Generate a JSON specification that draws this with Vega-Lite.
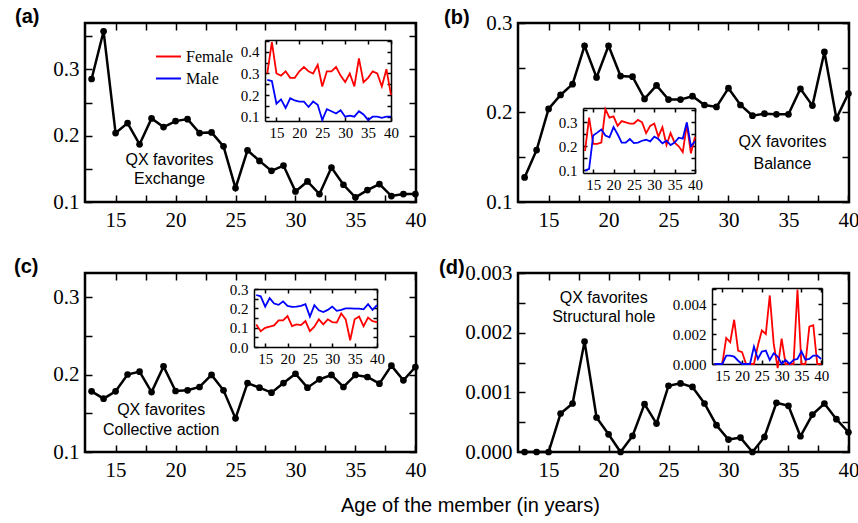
{
"$schema": "https://vega.github.io/schema/vega-lite/v6.json",
"padding": {"left": 12, "top": 6, "right": 0, "bottom": 2},
"background": "white",
"config": {
 "font": "Liberation Serif",
 "view": {"stroke": "black", "strokeWidth": 2.5},
 "axis": {"grid": false, "labelFont": "Liberation Serif", "labelColor": "black", "tickColor": "black", "tickWidth": 1.5, "domainColor": "black", "domainWidth": 1.5, "labelFlush": false, "labelOverlap": false},
 "axisX": {"labelFont": "Liberation Serif"},
 "axisY": {"labelFont": "Liberation Serif"},
 "title": {"font": "Liberation Sans", "fontSize": 20, "fontWeight": "bold", "anchor": "start", "frame": "group", "offset": -5, "color": "black"},
 "text": {"font": "Liberation Sans", "fontSize": 16, "color": "black"}
},
"title": {"text": "Age of the member (in years)", "orient": "bottom", "anchor": "middle", "frame": "bounds", "dx": 34, "offset": 15, "fontSize": 20, "fontWeight": "normal", "font": "Liberation Sans"},
"datasets": {
 "a_main": [{"age":13,"v":0.2855},{"age":14,"v":0.3575},{"age":15,"v":0.204},{"age":16,"v":0.219},{"age":17,"v":0.187},{"age":18,"v":0.226},{"age":19,"v":0.213},{"age":20,"v":0.222},{"age":21,"v":0.225},{"age":22,"v":0.204},{"age":23,"v":0.205},{"age":24,"v":0.184},{"age":25,"v":0.121},{"age":26,"v":0.178},{"age":27,"v":0.162},{"age":28,"v":0.147},{"age":29,"v":0.155},{"age":30,"v":0.116},{"age":31,"v":0.131},{"age":32,"v":0.112},{"age":33,"v":0.152},{"age":34,"v":0.126},{"age":35,"v":0.107},{"age":36,"v":0.118},{"age":37,"v":0.127},{"age":38,"v":0.109},{"age":39,"v":0.112},{"age":40,"v":0.112}],
 "a_text": [{"age":19.5,"v":0.1633,"label":"QX favorites"},{"age":19.5,"v":0.1347,"label":"Exchange"}],
 "a_inset": [
  {"age":13,"g":"Female","v":0.30},{"age":14,"g":"Female","v":0.445},{"age":15,"g":"Female","v":0.30},{"age":16,"g":"Female","v":0.29},{"age":17,"g":"Female","v":0.31},{"age":18,"g":"Female","v":0.28},{"age":19,"g":"Female","v":0.28},{"age":20,"g":"Female","v":0.31},{"age":21,"g":"Female","v":0.33},{"age":22,"g":"Female","v":0.31},{"age":23,"g":"Female","v":0.30},{"age":24,"g":"Female","v":0.34},{"age":25,"g":"Female","v":0.24},{"age":26,"g":"Female","v":0.31},{"age":27,"g":"Female","v":0.31},{"age":28,"g":"Female","v":0.33},{"age":29,"g":"Female","v":0.29},{"age":30,"g":"Female","v":0.26},{"age":31,"g":"Female","v":0.30},{"age":32,"g":"Female","v":0.24},{"age":33,"g":"Female","v":0.37},{"age":34,"g":"Female","v":0.26},{"age":35,"g":"Female","v":0.28},{"age":36,"g":"Female","v":0.31},{"age":37,"g":"Female","v":0.30},{"age":38,"g":"Female","v":0.24},{"age":39,"g":"Female","v":0.32},{"age":40,"g":"Female","v":0.20},
  {"age":13,"g":"Male","v":0.27},{"age":14,"g":"Male","v":0.265},{"age":15,"g":"Male","v":0.16},{"age":16,"g":"Male","v":0.18},{"age":17,"g":"Male","v":0.14},{"age":18,"g":"Male","v":0.185},{"age":19,"g":"Male","v":0.175},{"age":20,"g":"Male","v":0.17},{"age":21,"g":"Male","v":0.17},{"age":22,"g":"Male","v":0.145},{"age":23,"g":"Male","v":0.17},{"age":24,"g":"Male","v":0.155},{"age":25,"g":"Male","v":0.085},{"age":26,"g":"Male","v":0.135},{"age":27,"g":"Male","v":0.125},{"age":28,"g":"Male","v":0.115},{"age":29,"g":"Male","v":0.13},{"age":30,"g":"Male","v":0.1},{"age":31,"g":"Male","v":0.105},{"age":32,"g":"Male","v":0.1},{"age":33,"g":"Male","v":0.125},{"age":34,"g":"Male","v":0.11},{"age":35,"g":"Male","v":0.085},{"age":36,"g":"Male","v":0.1},{"age":37,"g":"Male","v":0.1},{"age":38,"g":"Male","v":0.095},{"age":39,"g":"Male","v":0.1},{"age":40,"g":"Male","v":0.1}],
 "b_main": [{"age":13,"v":0.1274},{"age":14,"v":0.158},{"age":15,"v":0.204},{"age":16,"v":0.2196},{"age":17,"v":0.2317},{"age":18,"v":0.2745},{"age":19,"v":0.2392},{"age":20,"v":0.2745},{"age":21,"v":0.2407},{"age":22,"v":0.24},{"age":23,"v":0.2152},{"age":24,"v":0.2302},{"age":25,"v":0.2144},{"age":26,"v":0.2144},{"age":27,"v":0.2182},{"age":28,"v":0.2084},{"age":29,"v":0.2062},{"age":30,"v":0.2272},{"age":31,"v":0.2084},{"age":32,"v":0.1964},{"age":33,"v":0.1987},{"age":34,"v":0.198},{"age":35,"v":0.198},{"age":36,"v":0.2265},{"age":37,"v":0.2077},{"age":38,"v":0.2677},{"age":39,"v":0.1934},{"age":40,"v":0.2212}],
 "b_text": [{"age":34.5,"v":0.1673,"label":"QX favorites"},{"age":34.5,"v":0.143,"label":"Balance"}],
 "b_inset": [
  {"age":13,"g":"Female","v":0.18},{"age":14,"g":"Female","v":0.32},{"age":15,"g":"Female","v":0.21},{"age":16,"g":"Female","v":0.21},{"age":17,"g":"Female","v":0.215},{"age":18,"g":"Female","v":0.355},{"age":19,"g":"Female","v":0.32},{"age":20,"g":"Female","v":0.325},{"age":21,"g":"Female","v":0.285},{"age":22,"g":"Female","v":0.305},{"age":23,"g":"Female","v":0.30},{"age":24,"g":"Female","v":0.295},{"age":25,"g":"Female","v":0.295},{"age":26,"g":"Female","v":0.31},{"age":27,"g":"Female","v":0.30},{"age":28,"g":"Female","v":0.255},{"age":29,"g":"Female","v":0.285},{"age":30,"g":"Female","v":0.295},{"age":31,"g":"Female","v":0.24},{"age":32,"g":"Female","v":0.28},{"age":33,"g":"Female","v":0.205},{"age":34,"g":"Female","v":0.255},{"age":35,"g":"Female","v":0.215},{"age":36,"g":"Female","v":0.2},{"age":37,"g":"Female","v":0.175},{"age":38,"g":"Female","v":0.29},{"age":39,"g":"Female","v":0.17},{"age":40,"g":"Female","v":0.24},
  {"age":13,"g":"Male","v":0.098},{"age":14,"g":"Male","v":0.105},{"age":15,"g":"Male","v":0.245},{"age":16,"g":"Male","v":0.257},{"age":17,"g":"Male","v":0.27},{"age":18,"g":"Male","v":0.245},{"age":19,"g":"Male","v":0.237},{"age":20,"g":"Male","v":0.28},{"age":21,"g":"Male","v":0.25},{"age":22,"g":"Male","v":0.215},{"age":23,"g":"Male","v":0.215},{"age":24,"g":"Male","v":0.23},{"age":25,"g":"Male","v":0.213},{"age":26,"g":"Male","v":0.215},{"age":27,"g":"Male","v":0.223},{"age":28,"g":"Male","v":0.227},{"age":29,"g":"Male","v":0.22},{"age":30,"g":"Male","v":0.24},{"age":31,"g":"Male","v":0.23},{"age":32,"g":"Male","v":0.212},{"age":33,"g":"Male","v":0.223},{"age":34,"g":"Male","v":0.205},{"age":35,"g":"Male","v":0.215},{"age":36,"g":"Male","v":0.236},{"age":37,"g":"Male","v":0.232},{"age":38,"g":"Male","v":0.30},{"age":39,"g":"Male","v":0.20},{"age":40,"g":"Male","v":0.22}],
 "c_main": [{"age":13,"v":0.1783},{"age":14,"v":0.1688},{"age":15,"v":0.1783},{"age":16,"v":0.2},{"age":17,"v":0.2037},{"age":18,"v":0.1774},{"age":19,"v":0.2105},{"age":20,"v":0.1787},{"age":21,"v":0.1796},{"age":22,"v":0.1839},{"age":23,"v":0.1994},{"age":24,"v":0.1796},{"age":25,"v":0.1434},{"age":26,"v":0.189},{"age":27,"v":0.183},{"age":28,"v":0.1766},{"age":29,"v":0.189},{"age":30,"v":0.201},{"age":31,"v":0.183},{"age":32,"v":0.1938},{"age":33,"v":0.1994},{"age":34,"v":0.1839},{"age":35,"v":0.1994},{"age":36,"v":0.1968},{"age":37,"v":0.1882},{"age":38,"v":0.2114},{"age":39,"v":0.1925},{"age":40,"v":0.2097}],
 "c_text": [{"age":18.8,"v":0.1538,"label":"QX favorites"},{"age":18.8,"v":0.128,"label":"Collective action"}],
 "c_inset": [
  {"age":13,"g":"Female","v":0.117},{"age":14,"g":"Female","v":0.082},{"age":15,"g":"Female","v":0.099},{"age":16,"g":"Female","v":0.105},{"age":17,"g":"Female","v":0.112},{"age":18,"g":"Female","v":0.138},{"age":19,"g":"Female","v":0.138},{"age":20,"g":"Female","v":0.16},{"age":21,"g":"Female","v":0.108},{"age":22,"g":"Female","v":0.117},{"age":23,"g":"Female","v":0.113},{"age":24,"g":"Female","v":0.134},{"age":25,"g":"Female","v":0.082},{"age":26,"g":"Female","v":0.105},{"age":27,"g":"Female","v":0.143},{"age":28,"g":"Female","v":0.117},{"age":29,"g":"Female","v":0.143},{"age":30,"g":"Female","v":0.129},{"age":31,"g":"Female","v":0.126},{"age":32,"g":"Female","v":0.173},{"age":33,"g":"Female","v":0.143},{"age":34,"g":"Female","v":0.035},{"age":35,"g":"Female","v":0.143},{"age":36,"g":"Female","v":0.157},{"age":37,"g":"Female","v":0.108},{"age":38,"g":"Female","v":0.152},{"age":39,"g":"Female","v":0.134},{"age":40,"g":"Female","v":0.129},
  {"age":13,"g":"Male","v":0.269},{"age":14,"g":"Male","v":0.262},{"age":15,"g":"Male","v":0.209},{"age":16,"g":"Male","v":0.253},{"age":17,"g":"Male","v":0.225},{"age":18,"g":"Male","v":0.218},{"age":19,"g":"Male","v":0.236},{"age":20,"g":"Male","v":0.213},{"age":21,"g":"Male","v":0.208},{"age":22,"g":"Male","v":0.209},{"age":23,"g":"Male","v":0.213},{"age":24,"g":"Male","v":0.222},{"age":25,"g":"Male","v":0.157},{"age":26,"g":"Male","v":0.216},{"age":27,"g":"Male","v":0.19},{"age":28,"g":"Male","v":0.181},{"age":29,"g":"Male","v":0.192},{"age":30,"g":"Male","v":0.209},{"age":31,"g":"Male","v":0.187},{"age":32,"g":"Male","v":0.192},{"age":33,"g":"Male","v":0.2},{"age":34,"g":"Male","v":0.2},{"age":35,"g":"Male","v":0.199},{"age":36,"g":"Male","v":0.199},{"age":37,"g":"Male","v":0.195},{"age":38,"g":"Male","v":0.222},{"age":39,"g":"Male","v":0.192},{"age":40,"g":"Male","v":0.216}],
 "d_main": [{"age":13,"v":0},{"age":14,"v":0},{"age":15,"v":0},{"age":16,"v":0.000645},{"age":17,"v":0.000813},{"age":18,"v":0.00185},{"age":19,"v":0.000578},{"age":20,"v":0.000297},{"age":21,"v":0},{"age":22,"v":0.000269},{"age":23,"v":0.000802},{"age":24,"v":0.000477},{"age":25,"v":0.00111},{"age":26,"v":0.00115},{"age":27,"v":0.00109},{"age":28,"v":0.000813},{"age":29,"v":0.000449},{"age":30,"v":0.000208},{"age":31,"v":0.000241},{"age":32,"v":0},{"age":33,"v":0.000252},{"age":34,"v":0.000824},{"age":35,"v":0.000774},{"age":36,"v":0.000264},{"age":37,"v":0.000628},{"age":38,"v":0.000813},{"age":39,"v":0.00055},{"age":40,"v":0.000331}],
 "d_text": [{"age":19.6,"v":0.00258,"label":"QX favorites"},{"age":19.6,"v":0.002262,"label":"Structural hole"}],
 "d_inset": [
  {"age":13,"g":"Female","v":0},{"age":14,"g":"Female","v":0},{"age":15,"g":"Female","v":0},{"age":16,"g":"Female","v":0.00175},{"age":17,"g":"Female","v":0.00146},{"age":18,"g":"Female","v":0.00297},{"age":19,"g":"Female","v":0.0009},{"age":20,"g":"Female","v":0.0008},{"age":21,"g":"Female","v":0},{"age":22,"g":"Female","v":0},{"age":23,"g":"Female","v":0},{"age":24,"g":"Female","v":0.00124},{"age":25,"g":"Female","v":0.00225},{"age":26,"g":"Female","v":0.002},{"age":27,"g":"Female","v":0.0046},{"age":28,"g":"Female","v":0.00135},{"age":29,"g":"Female","v":-0.00027},{"age":30,"g":"Female","v":0.0017},{"age":31,"g":"Female","v":0},{"age":32,"g":"Female","v":0},{"age":33,"g":"Female","v":0},{"age":34,"g":"Female","v":0.005},{"age":35,"g":"Female","v":0},{"age":36,"g":"Female","v":0},{"age":37,"g":"Female","v":0.0025},{"age":38,"g":"Female","v":0.0026},{"age":39,"g":"Female","v":0},{"age":40,"g":"Female","v":0},
  {"age":13,"g":"Male","v":0},{"age":14,"g":"Male","v":0},{"age":15,"g":"Male","v":0},{"age":16,"g":"Male","v":0.00056},{"age":17,"g":"Male","v":0.00056},{"age":18,"g":"Male","v":0.0005},{"age":19,"g":"Male","v":0.00022},{"age":20,"g":"Male","v":0},{"age":21,"g":"Male","v":0},{"age":22,"g":"Male","v":0},{"age":23,"g":"Male","v":0.00117},{"age":24,"g":"Male","v":0.00034},{"age":25,"g":"Male","v":0.00083},{"age":26,"g":"Male","v":0.0009},{"age":27,"g":"Male","v":0.00027},{"age":28,"g":"Male","v":0.00072},{"age":29,"g":"Male","v":0.0005},{"age":30,"g":"Male","v":0},{"age":31,"g":"Male","v":0.00027},{"age":32,"g":"Male","v":0},{"age":33,"g":"Male","v":0.00027},{"age":34,"g":"Male","v":0.00034},{"age":35,"g":"Male","v":0.00085},{"age":36,"g":"Male","v":0.00029},{"age":37,"g":"Male","v":0.00034},{"age":38,"g":"Male","v":0.00056},{"age":39,"g":"Male","v":0.00056},{"age":40,"g":"Male","v":0.00034}]
},
"columns": 2,
"spacing": {"row": 71, "column": 102},
"bounds": "flush",
"resolve": {"scale": {"color": "independent"}, "legend": {"color": "independent"}},
"concat": [
 {"width": 331, "height": 179,
  "title": {"text": "(a)", "dx": -70},
  "resolve": {"scale": {"x": "independent", "y": "independent"}, "axis": {"x": "independent", "y": "independent"}},
  "layer": [
   {"data": {"name": "a_main"}, "mark": {"type": "line", "color": "black", "strokeWidth": 2.5, "point": {"filled": true, "color": "black", "size": 45}},
    "encoding": {
     "x": {"field": "age", "type": "quantitative", "scale": {"domain": [12.45, 40.05], "nice": false, "zero": false}, "axis": {"title": null, "orient": "bottom", "values": [15,17.5,20,22.5,25,27.5,30,32.5,35,37.5,40], "labelExpr": "datum.value % 5 === 0 ? format(datum.value, 'd') : ''", "tickSize": -7, "labelPadding": 14, "labelFontSize": 21, "labelFont": "Liberation Serif", "domain": false}},
     "y": {"field": "v", "type": "quantitative", "scale": {"domain": [0.1, 0.37], "nice": false, "zero": false}, "axis": {"title": null, "orient": "left", "values": [0.1,0.15,0.2,0.25,0.3,0.35], "labelExpr": "abs(datum.value*10 - round(datum.value*10)) < 0.001 ? format(datum.value, '.1f') : ''", "tickSize": -7, "labelPadding": 13, "labelFontSize": 21, "labelFont": "Liberation Serif", "domain": false}}}},
   {"data": {"name": "a_main"}, "mark": {"type": "point", "opacity": 0},
    "encoding": {
     "x": {"field": "age", "type": "quantitative", "scale": {"domain": [12.45, 40.05], "nice": false, "zero": false}, "axis": {"title": null, "orient": "top", "values": [15,17.5,20,22.5,25,27.5,30,32.5,35,37.5,40], "labels": false, "tickSize": -7, "domain": false}},
     "y": {"field": "v", "type": "quantitative", "scale": {"domain": [0.1, 0.37], "nice": false, "zero": false}, "axis": {"title": null, "orient": "right", "values": [0.1,0.15,0.2,0.25,0.3,0.35], "labels": false, "tickSize": -7, "domain": false}}}},
   {"data": {"name": "a_text"}, "mark": {"type": "text"},
    "encoding": {
     "x": {"field": "age", "type": "quantitative", "scale": {"domain": [12.45, 40.05], "nice": false, "zero": false}, "axis": null},
     "y": {"field": "v", "type": "quantitative", "scale": {"domain": [0.1, 0.37], "nice": false, "zero": false}, "axis": null},
     "text": {"field": "label"}}},
   {"data": {"name": "a_inset"}, "mark": {"type": "line", "strokeWidth": 1.8},
    "encoding": {
     "x": {"field": "age", "type": "quantitative", "scale": {"domain": [12.5, 40], "range": [180, 306], "nice": false, "zero": false}, "axis": {"title": null, "orient": "bottom", "offset": -81, "values": [15,20,25,30,35,40], "format": "d", "tickSize": -4, "labelPadding": 8, "labelFontSize": 15, "labelFont": "Liberation Serif"}},
     "y": {"field": "v", "type": "quantitative", "scale": {"domain": [0.08, 0.455], "range": [98, 17], "nice": false, "zero": false}, "axis": {"title": null, "orient": "left", "offset": -180, "values": [0.1,0.15,0.2,0.25,0.3,0.35,0.4,0.45], "labelExpr": "abs(datum.value*10 - round(datum.value*10)) < 0.001 ? format(datum.value, '.1f') : ''", "tickSize": -4, "labelPadding": 10, "labelFontSize": 15, "labelFont": "Liberation Serif"}},
     "color": {"field": "g", "type": "nominal", "scale": {"domain": ["Female", "Male"], "range": ["#ff0000", "#0000ff"]}, "legend": {"title": null, "orient": "none", "legendX": 70, "legendY": 20, "symbolType": "stroke", "symbolSize": 625, "symbolStrokeWidth": 2, "labelFont": "Liberation Serif", "labelFontSize": 16, "labelColor": "black", "labelOffset": 4, "rowPadding": -19, "padding": 0}}}},
   {"data": {"name": "a_inset"}, "mark": {"type": "point", "opacity": 0},
    "encoding": {
     "x": {"field": "age", "type": "quantitative", "scale": {"domain": [12.5, 40], "range": [180, 306], "nice": false, "zero": false}, "axis": {"title": null, "orient": "top", "offset": -17, "values": [15,20,25,30,35,40], "labels": false, "tickSize": -4}},
     "y": {"field": "v", "type": "quantitative", "scale": {"domain": [0.08, 0.455], "range": [98, 17], "nice": false, "zero": false}, "axis": {"title": null, "orient": "right", "offset": -25, "values": [0.1,0.15,0.2,0.25,0.3,0.35,0.4,0.45], "labels": false, "tickSize": -4}}}}
  ]},
 {"width": 331, "height": 179,
  "title": {"text": "(b)", "dx": -74, "offset": -16},
  "resolve": {"scale": {"x": "independent", "y": "independent"}, "axis": {"x": "independent", "y": "independent"}},
  "layer": [
   {"data": {"name": "b_main"}, "mark": {"type": "line", "color": "black", "strokeWidth": 2.5, "point": {"filled": true, "color": "black", "size": 45}},
    "encoding": {
     "x": {"field": "age", "type": "quantitative", "scale": {"domain": [12.45, 40.05], "nice": false, "zero": false}, "axis": {"title": null, "orient": "bottom", "values": [15,17.5,20,22.5,25,27.5,30,32.5,35,37.5,40], "labelExpr": "datum.value % 5 === 0 ? format(datum.value, 'd') : ''", "tickSize": -7, "labelPadding": 14, "labelFontSize": 21, "labelFont": "Liberation Serif", "domain": false}},
     "y": {"field": "v", "type": "quantitative", "scale": {"domain": [0.1, 0.3], "nice": false, "zero": false}, "axis": {"title": null, "orient": "left", "values": [0.1,0.15,0.2,0.25,0.3], "labelExpr": "abs(datum.value*10 - round(datum.value*10)) < 0.001 ? format(datum.value, '.1f') : ''", "tickSize": -7, "labelPadding": 13, "labelFontSize": 21, "labelFont": "Liberation Serif", "domain": false}}}},
   {"data": {"name": "b_main"}, "mark": {"type": "point", "opacity": 0},
    "encoding": {
     "x": {"field": "age", "type": "quantitative", "scale": {"domain": [12.45, 40.05], "nice": false, "zero": false}, "axis": {"title": null, "orient": "top", "values": [15,17.5,20,22.5,25,27.5,30,32.5,35,37.5,40], "labels": false, "tickSize": -7, "domain": false}},
     "y": {"field": "v", "type": "quantitative", "scale": {"domain": [0.1, 0.3], "nice": false, "zero": false}, "axis": {"title": null, "orient": "right", "values": [0.1,0.15,0.2,0.25,0.3], "labels": false, "tickSize": -7, "domain": false}}}},
   {"data": {"name": "b_text"}, "mark": {"type": "text"},
    "encoding": {
     "x": {"field": "age", "type": "quantitative", "scale": {"domain": [12.45, 40.05], "nice": false, "zero": false}, "axis": null},
     "y": {"field": "v", "type": "quantitative", "scale": {"domain": [0.1, 0.3], "nice": false, "zero": false}, "axis": null},
     "text": {"field": "label"}}},
   {"data": {"name": "b_inset"}, "mark": {"type": "line", "strokeWidth": 1.8},
    "encoding": {
     "x": {"field": "age", "type": "quantitative", "scale": {"domain": [12.5, 40], "range": [65, 177], "nice": false, "zero": false}, "axis": {"title": null, "orient": "bottom", "offset": -29, "values": [15,20,25,30,35,40], "format": "d", "tickSize": -4, "labelPadding": 8, "labelFontSize": 15, "labelFont": "Liberation Serif"}},
     "y": {"field": "v", "type": "quantitative", "scale": {"domain": [0.088, 0.36], "range": [150, 85], "nice": false, "zero": false}, "axis": {"title": null, "orient": "left", "offset": -65, "values": [0.1,0.15,0.2,0.25,0.3,0.35], "labelExpr": "abs(datum.value*10 - round(datum.value*10)) < 0.001 ? format(datum.value, '.1f') : ''", "tickSize": -4, "labelPadding": 10, "labelFontSize": 15, "labelFont": "Liberation Serif"}},
     "color": {"field": "g", "type": "nominal", "scale": {"domain": ["Female", "Male"], "range": ["#ff0000", "#0000ff"]}, "legend": null}}},
   {"data": {"name": "b_inset"}, "mark": {"type": "point", "opacity": 0},
    "encoding": {
     "x": {"field": "age", "type": "quantitative", "scale": {"domain": [12.5, 40], "range": [65, 177], "nice": false, "zero": false}, "axis": {"title": null, "orient": "top", "offset": -85, "values": [15,20,25,30,35,40], "labels": false, "tickSize": -4}},
     "y": {"field": "v", "type": "quantitative", "scale": {"domain": [0.088, 0.36], "range": [150, 85], "nice": false, "zero": false}, "axis": {"title": null, "orient": "right", "offset": -154, "values": [0.1,0.15,0.2,0.25,0.3,0.35], "labels": false, "tickSize": -4}}}}
  ]},
 {"width": 331, "height": 179,
  "title": {"text": "(c)", "dx": -71},
  "resolve": {"scale": {"x": "independent", "y": "independent"}, "axis": {"x": "independent", "y": "independent"}},
  "layer": [
   {"data": {"name": "c_main"}, "mark": {"type": "line", "color": "black", "strokeWidth": 2.5, "point": {"filled": true, "color": "black", "size": 45}},
    "encoding": {
     "x": {"field": "age", "type": "quantitative", "scale": {"domain": [12.45, 40.05], "nice": false, "zero": false}, "axis": {"title": null, "orient": "bottom", "values": [15,17.5,20,22.5,25,27.5,30,32.5,35,37.5,40], "labelExpr": "datum.value % 5 === 0 ? format(datum.value, 'd') : ''", "tickSize": -7, "labelPadding": 14, "labelFontSize": 21, "labelFont": "Liberation Serif", "domain": false}},
     "y": {"field": "v", "type": "quantitative", "scale": {"domain": [0.1, 0.331], "nice": false, "zero": false}, "axis": {"title": null, "orient": "left", "values": [0.1,0.15,0.2,0.25,0.3], "labelExpr": "abs(datum.value*10 - round(datum.value*10)) < 0.001 ? format(datum.value, '.1f') : ''", "tickSize": -7, "labelPadding": 13, "labelFontSize": 21, "labelFont": "Liberation Serif", "domain": false}}}},
   {"data": {"name": "c_main"}, "mark": {"type": "point", "opacity": 0},
    "encoding": {
     "x": {"field": "age", "type": "quantitative", "scale": {"domain": [12.45, 40.05], "nice": false, "zero": false}, "axis": {"title": null, "orient": "top", "values": [15,17.5,20,22.5,25,27.5,30,32.5,35,37.5,40], "labels": false, "tickSize": -7, "domain": false}},
     "y": {"field": "v", "type": "quantitative", "scale": {"domain": [0.1, 0.331], "nice": false, "zero": false}, "axis": {"title": null, "orient": "right", "values": [0.1,0.15,0.2,0.25,0.3], "labels": false, "tickSize": -7, "domain": false}}}},
   {"data": {"name": "c_text"}, "mark": {"type": "text"},
    "encoding": {
     "x": {"field": "age", "type": "quantitative", "scale": {"domain": [12.45, 40.05], "nice": false, "zero": false}, "axis": null},
     "y": {"field": "v", "type": "quantitative", "scale": {"domain": [0.1, 0.331], "nice": false, "zero": false}, "axis": null},
     "text": {"field": "label"}}},
   {"data": {"name": "c_inset"}, "mark": {"type": "line", "strokeWidth": 1.8},
    "encoding": {
     "x": {"field": "age", "type": "quantitative", "scale": {"domain": [12.5, 40], "range": [169, 292], "nice": false, "zero": false}, "axis": {"title": null, "orient": "bottom", "offset": -105, "values": [15,20,25,30,35,40], "format": "d", "tickSize": -4, "labelPadding": 8, "labelFontSize": 15, "labelFont": "Liberation Serif"}},
     "y": {"field": "v", "type": "quantitative", "scale": {"domain": [0, 0.3], "range": [74, 16], "nice": false, "zero": false}, "axis": {"title": null, "orient": "left", "offset": -169, "values": [0,0.05,0.1,0.15,0.2,0.25,0.3], "labelExpr": "abs(datum.value*10 - round(datum.value*10)) < 0.001 ? format(datum.value, '.1f') : ''", "tickSize": -4, "labelPadding": 10, "labelFontSize": 15, "labelFont": "Liberation Serif"}},
     "color": {"field": "g", "type": "nominal", "scale": {"domain": ["Female", "Male"], "range": ["#ff0000", "#0000ff"]}, "legend": null}}},
   {"data": {"name": "c_inset"}, "mark": {"type": "point", "opacity": 0},
    "encoding": {
     "x": {"field": "age", "type": "quantitative", "scale": {"domain": [12.5, 40], "range": [169, 292], "nice": false, "zero": false}, "axis": {"title": null, "orient": "top", "offset": -16, "values": [15,20,25,30,35,40], "labels": false, "tickSize": -4}},
     "y": {"field": "v", "type": "quantitative", "scale": {"domain": [0, 0.3], "range": [74, 16], "nice": false, "zero": false}, "axis": {"title": null, "orient": "right", "offset": -39, "values": [0,0.05,0.1,0.15,0.2,0.25,0.3], "labels": false, "tickSize": -4}}}}
  ]},
 {"width": 331, "height": 179,
  "title": {"text": "(d)", "dx": -79, "offset": -16},
  "resolve": {"scale": {"x": "independent", "y": "independent"}, "axis": {"x": "independent", "y": "independent"}},
  "layer": [
   {"data": {"name": "d_main"}, "mark": {"type": "line", "color": "black", "strokeWidth": 2.5, "point": {"filled": true, "color": "black", "size": 45}},
    "encoding": {
     "x": {"field": "age", "type": "quantitative", "scale": {"domain": [12.45, 40.05], "nice": false, "zero": false}, "axis": {"title": null, "orient": "bottom", "values": [15,17.5,20,22.5,25,27.5,30,32.5,35,37.5,40], "labelExpr": "datum.value % 5 === 0 ? format(datum.value, 'd') : ''", "tickSize": -7, "labelPadding": 14, "labelFontSize": 21, "labelFont": "Liberation Serif", "domain": false}},
     "y": {"field": "v", "type": "quantitative", "scale": {"domain": [0, 0.003], "nice": false, "zero": false}, "axis": {"title": null, "orient": "left", "values": [0,0.0005,0.001,0.0015,0.002,0.0025,0.003], "labelExpr": "abs(datum.value*1000 - round(datum.value*1000)) < 0.001 ? format(datum.value, '.3f') : ''", "tickSize": -7, "labelPadding": 13, "labelFontSize": 21, "labelFont": "Liberation Serif", "domain": false}}}},
   {"data": {"name": "d_main"}, "mark": {"type": "point", "opacity": 0},
    "encoding": {
     "x": {"field": "age", "type": "quantitative", "scale": {"domain": [12.45, 40.05], "nice": false, "zero": false}, "axis": {"title": null, "orient": "top", "values": [15,17.5,20,22.5,25,27.5,30,32.5,35,37.5,40], "labels": false, "tickSize": -7, "domain": false}},
     "y": {"field": "v", "type": "quantitative", "scale": {"domain": [0, 0.003], "nice": false, "zero": false}, "axis": {"title": null, "orient": "right", "values": [0,0.0005,0.001,0.0015,0.002,0.0025,0.003], "labels": false, "tickSize": -7, "domain": false}}}},
   {"data": {"name": "d_text"}, "mark": {"type": "text"},
    "encoding": {
     "x": {"field": "age", "type": "quantitative", "scale": {"domain": [12.45, 40.05], "nice": false, "zero": false}, "axis": null},
     "y": {"field": "v", "type": "quantitative", "scale": {"domain": [0, 0.003], "nice": false, "zero": false}, "axis": null},
     "text": {"field": "label"}}},
   {"data": {"name": "d_inset"}, "mark": {"type": "line", "strokeWidth": 1.8},
    "encoding": {
     "x": {"field": "age", "type": "quantitative", "scale": {"domain": [12.4, 40.2], "range": [194, 304], "nice": false, "zero": false}, "axis": {"title": null, "orient": "bottom", "offset": -88, "values": [15,20,25,30,35,40], "format": "d", "tickSize": -4, "labelPadding": 8, "labelFontSize": 15, "labelFont": "Liberation Serif"}},
     "y": {"field": "v", "type": "quantitative", "scale": {"domain": [0, 0.0051], "range": [91, 15], "nice": false, "zero": false}, "axis": {"title": null, "orient": "left", "offset": -194, "values": [0,0.001,0.002,0.003,0.004,0.005], "labelExpr": "abs(datum.value*500 - round(datum.value*500)) < 0.001 ? format(datum.value, '.3f') : ''", "tickSize": -4, "labelPadding": 10, "labelFontSize": 15, "labelFont": "Liberation Serif"}},
     "color": {"field": "g", "type": "nominal", "scale": {"domain": ["Female", "Male"], "range": ["#ff0000", "#0000ff"]}, "legend": null}}},
   {"data": {"name": "d_inset"}, "mark": {"type": "point", "opacity": 0},
    "encoding": {
     "x": {"field": "age", "type": "quantitative", "scale": {"domain": [12.4, 40.2], "range": [194, 304], "nice": false, "zero": false}, "axis": {"title": null, "orient": "top", "offset": -15, "values": [15,20,25,30,35,40], "labels": false, "tickSize": -4}},
     "y": {"field": "v", "type": "quantitative", "scale": {"domain": [0, 0.0051], "range": [91, 15], "nice": false, "zero": false}, "axis": {"title": null, "orient": "right", "offset": -27, "values": [0,0.001,0.002,0.003,0.004,0.005], "labels": false, "tickSize": -4}}}}
  ]}
]
}
